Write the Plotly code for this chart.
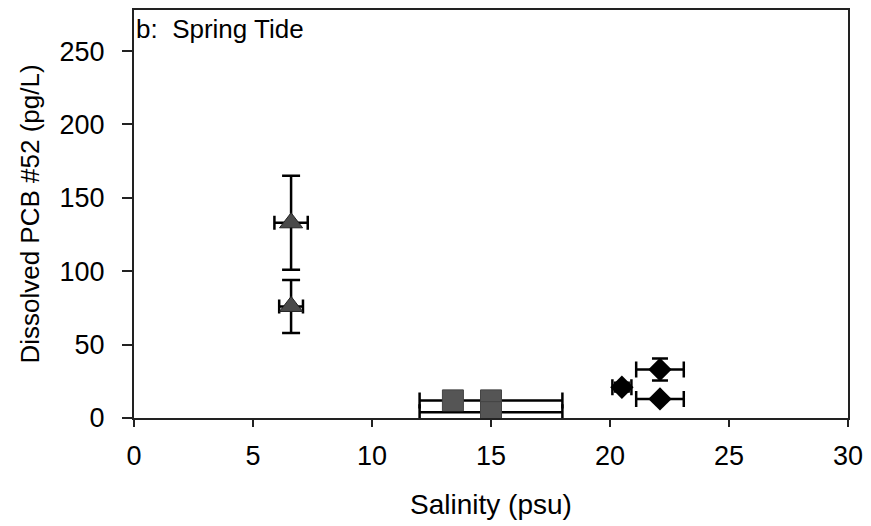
import plotly.graph_objects as go

# Triangles (upstream)
tri_x = [6.6, 6.6]
tri_y = [133, 76]
tri_xerr = [0.7, 0.5]
tri_yerr = [32, 18]

# Squares (mid estuary)
sq_x = [13.4, 15.0, 15.0]
sq_y = [12, 12, 4]
sq_xerr = [0, 3.0, 3.0]
sq_yerr = [0, 0, 0]

# Diamonds (lower estuary)
dia_x = [20.5, 22.1, 22.1]
dia_y = [21, 33, 13]
dia_xerr = [0.4, 1.0, 1.0]
dia_yerr = [3, 7.5, 0]

x_ticks = [0, 5, 10, 15, 20, 25, 30]
y_ticks = [0, 50, 100, 150, 200, 250]

FONT = "Liberation Sans, Arial, sans-serif"

def err(arr, w):
    return dict(type="data", array=arr, visible=True, color="black", thickness=2.5, width=w)

fig = go.Figure()
fig.add_trace(go.Scatter(
    x=tri_x, y=tri_y, mode="markers",
    marker=dict(symbol="triangle-up", size=20, color="#4a4a4a", line=dict(color="#222", width=1)),
    error_x=err(tri_xerr, 7), error_y=err(tri_yerr, 9), showlegend=False))
fig.add_trace(go.Scatter(
    x=sq_x, y=sq_y, mode="markers",
    marker=dict(symbol="square", size=21, color="#555555", line=dict(color="#444", width=1)),
    error_x=err(sq_xerr, 8), error_y=err(sq_yerr, 0), showlegend=False))
fig.add_trace(go.Scatter(
    x=dia_x, y=dia_y, mode="markers",
    marker=dict(symbol="diamond", size=18, color="black"),
    error_x=err(dia_xerr, 8), error_y=err(dia_yerr, 8), showlegend=False))

fig.add_annotation(x=0, y=1, xref="paper", yref="paper", xanchor="left", yanchor="top",
                   text="b:  Spring Tide", showarrow=False, xshift=0, yshift=-2,
                   font=dict(family=FONT, size=26, color="black"))

fig.update_layout(
    width=871, height=526,
    margin=dict(l=134, r=18, t=8, b=108),
    plot_bgcolor="white", paper_bgcolor="white",
    font=dict(family=FONT, size=27, color="black"),
    xaxis=dict(range=[0, 30], tickvals=x_ticks, showgrid=False, zeroline=False,
               showline=True, linecolor="#222", linewidth=2, mirror=True,
               ticks="outside", ticklen=7, tickwidth=1.5, tickcolor="#222",
               ticklabelstandoff=6,
               title=dict(text="Salinity (psu)", standoff=24, font=dict(size=28))),
    yaxis=dict(range=[0, 278], tickvals=y_ticks, showgrid=False, zeroline=False,
               showline=True, linecolor="#222", linewidth=2, mirror=True,
               ticks="outside", ticklen=10, tickwidth=1.5, tickcolor="#222",
               ticklabelstandoff=12,
               title=dict(text="Dissolved PCB #52 (pg/L)", standoff=12, font=dict(size=26))),
)

fig.write_html("out.html")
